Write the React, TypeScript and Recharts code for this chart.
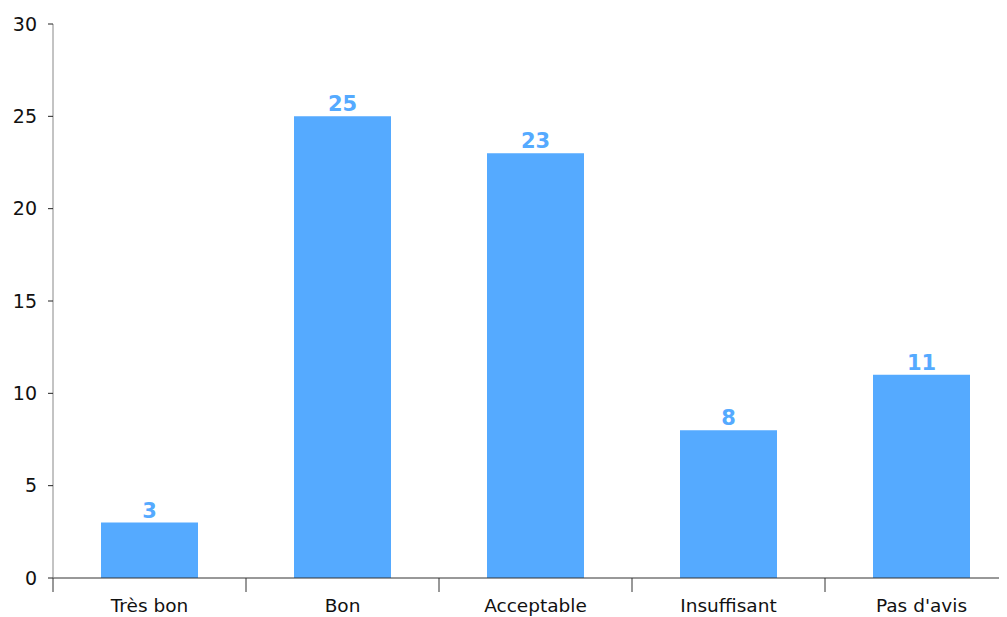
import React from "react";
import { BarChart, Bar, XAxis, YAxis, LabelList } from "recharts";

const categories = ["Très bon", "Bon", "Acceptable", "Insuffisant", "Pas d'avis"];
const counts = [3, 25, 23, 8, 11];
const yTicks = [0, 5, 10, 15, 20, 25, 30];

const data = categories.map((name, i) => ({ name, value: counts[i] }));

const FONT = "'DejaVu Sans', Verdana, sans-serif";
const TICK_SIZE = 0;
const TICK_MARGIN = 21;

const XTick = (props: any) => {
  const { x, y, payload, index, visibleTicksCount } = props;
  const off = payload.offset || 0;
  const top = y - TICK_SIZE - TICK_MARGIN;
  return (
    <g>
      <line x1={x - off} x2={x - off} y1={top} y2={top + 14} stroke="#333" strokeWidth={1} />
      {index === visibleTicksCount - 1 && (
        <line x1={x + off} x2={x + off} y1={top} y2={top + 14} stroke="#333" strokeWidth={1} />
      )}
      <text x={x} y={y} dy="0.71em" textAnchor="middle" fill="#111" fontSize={18.5} fontFamily={FONT}>
        {payload.value}
      </text>
    </g>
  );
};

export default function App() {
  return (
    <div style={{ width: 999, height: 609, overflow: "hidden" }}>
      <BarChart
        width={1020}
        height={609}
        data={data}
        margin={{ top: 16, right: 10, left: 0, bottom: 0 }}
      >
        <XAxis
          dataKey="name"
          height={39}
          axisLine={{ stroke: "#333" }}
          tickLine={false}
          tickSize={TICK_SIZE}
          tickMargin={TICK_MARGIN}
          tick={<XTick />}
          interval={0}
        />
        <YAxis
          width={45}
          domain={[0, 30]}
          ticks={yTicks}
          interval={0}
          axisLine={{ stroke: "#888" }}
          tickLine={{ stroke: "#222" }}
          tickSize={5}
          tickMargin={11}
          tick={{ fill: "#111", fontSize: 19, fontFamily: FONT }}
        />
        <Bar dataKey="value" fill="#55aaff" barSize={97} isAnimationActive={false}>
          <LabelList
            dataKey="value"
            position="top"
            offset={5}
            fill="#55aaff"
            fontSize={21}
            fontWeight="bold"
            fontFamily={FONT}
          />
        </Bar>
      </BarChart>
    </div>
  );
}
